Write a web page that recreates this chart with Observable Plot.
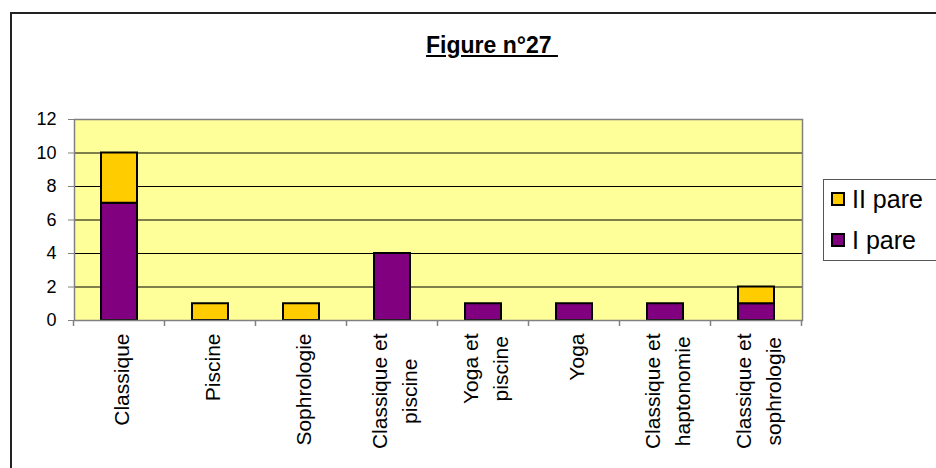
<!DOCTYPE html>
<html><head><meta charset="utf-8">
<script src="https://cdn.jsdelivr.net/npm/d3@7"></script>
<script src="https://cdn.jsdelivr.net/npm/@observablehq/plot@0.6"></script>
<style>
body{margin:0;background:#fff;font-family:"Liberation Sans",Arial,sans-serif;}
#wrap{position:relative;width:936px;height:468px;overflow:hidden;background:#fff;}
#wrap svg{position:absolute;left:0;top:0;}
#frame{position:absolute;left:10px;top:12px;width:960px;height:480px;border:2px solid #222;box-sizing:border-box;}
#title{position:absolute;left:0;width:984px;top:32px;text-align:center;font-weight:bold;font-size:23px;text-decoration:underline;color:#000;white-space:pre;}
#legend{position:absolute;left:823px;top:179px;width:140px;height:82px;border:1px solid #555;box-sizing:border-box;background:#fff;}
.item{position:absolute;left:7px;height:26px;display:flex;align-items:center;font-size:25px;color:#000;white-space:nowrap;}
.sw{width:14px;height:14px;border:2px solid #000;box-sizing:border-box;margin-right:7px;}
</style>
</head><body>
<div id="wrap">
  <div id="title"></div>
  <div id="legend"></div>
  <div id="frame"></div>
</div>
<script>
const titleText = "Figure n°27 ";
const categories = ["Classique","Piscine","Sophrologie","Classique et piscine","Yoga et piscine","Yoga","Classique et haptonomie","Classique et sophrologie"];
const tickLabels = ["Classique","Piscine","Sophrologie","Classique et\npiscine","Yoga et\npiscine","Yoga","Classique et\nhaptonomie","Classique et\nsophrologie"];
const seriesNames = ["I pare","II pare"];
const iPare = [7,0,0,4,1,1,1,1];
const iiPare = [3,1,1,0,0,0,0,1];
const yTicks = [0,2,4,6,8,10,12];
const colors = ["#800080","#FFCC00"];

const data = [];
[iPare, iiPare].forEach((vals, s) => vals.forEach((v, i) => {
  if (v > 0) data.push({cat: categories[i], series: seriesNames[s], value: v});
}));

const chart = Plot.plot({
  width: 936, height: 468,
  marginLeft: 74, marginRight: 134, marginTop: 119, marginBottom: 148,
  style: {background: "transparent", fontFamily: "Liberation Sans, Arial, sans-serif", color: "#000"},
  x: {domain: categories, paddingInner: 0.6, paddingOuter: 0.3, label: null},
  y: {domain: [0, 12], label: null},
  color: {domain: seriesNames, range: colors},
  marks: [
    Plot.frame({fill: "#FFFF99", stroke: null}),
    Plot.gridY(yTicks.filter(t => t > 0 && t < 12), {stroke: "#000", strokeOpacity: 1}),
    Plot.barY(data, {x: "cat", y: "value", fill: "series", stroke: "#000", strokeWidth: 2}),
    Plot.frame({stroke: "#808080", strokeWidth: 1.5}),
    Plot.axisY({ticks: yTicks, tickSize: 6, tickPadding: 12, fontSize: 18, stroke: "#808080", fill: "#000"}),
    Plot.axisX({tickSize: 0, tickPadding: 13, tickRotate: -90, fontSize: 21, lineHeight: 1.4, fill: "#000",
      tickFormat: d => tickLabels[categories.indexOf(d)]})
  ]
});

const wrap = document.getElementById("wrap");
wrap.insertBefore(chart, wrap.firstChild);

// band-boundary ticks on the x axis
const xs = chart.scale("x");
const y0 = chart.scale("y").apply(0);
const bounds = categories.map(c => xs.apply(c) - (xs.step - xs.bandwidth) / 2);
bounds.push(bounds[bounds.length - 1] + xs.step);
d3.select(chart).append("g").selectAll("line").data(bounds).join("line")
  .attr("x1", d => d).attr("x2", d => d).attr("y1", y0).attr("y2", y0 + 6)
  .attr("stroke", "#808080").attr("stroke-width", 1.5);

// center the lines of wrapped labels within their block
chart.querySelectorAll('g[aria-label="x-axis tick label"] text').forEach(t => {
  const spans = t.querySelectorAll("tspan");
  if (spans.length < 2) return;
  const m = Math.max(...Array.from(spans, s => s.getComputedTextLength()));
  t.setAttribute("text-anchor", "middle");
  spans.forEach(s => s.setAttribute("x", -m / 2));
});

document.getElementById("title").textContent = titleText;
const legend = document.getElementById("legend");
const legendOrder = ["II pare", "I pare"];
legendOrder.forEach((name, k) => {
  const it = document.createElement("div");
  it.className = "item";
  it.style.top = (k === 0 ? 6 : 47) + "px";
  const sw = document.createElement("div");
  sw.className = "sw";
  sw.style.background = colors[seriesNames.indexOf(name)];
  it.appendChild(sw);
  it.appendChild(document.createTextNode(name));
  legend.appendChild(it);
});
</script>
</body></html>
